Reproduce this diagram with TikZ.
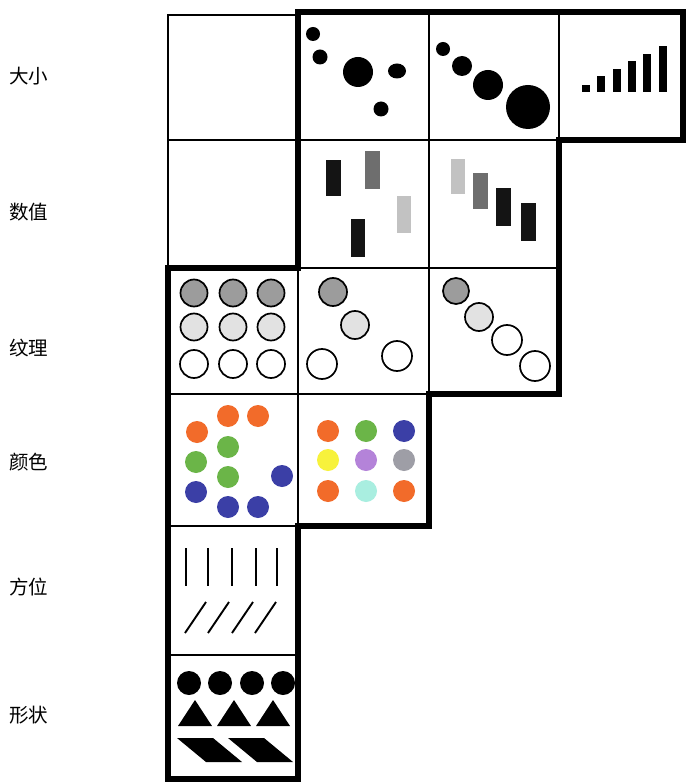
\documentclass[tikz,border=0pt]{standalone}
\usepackage{fontspec}
\usepackage{xcolor}
\usepackage{tikz}
\newfontfamily\cjk{Noto Sans CJK SC}
\definecolor{darkbar}{HTML}{141414}
\definecolor{midbar}{HTML}{6E6E6E}
\definecolor{lightbar}{HTML}{C2C2C2}
\definecolor{darkfill}{HTML}{9C9C9C}
\definecolor{lightfill}{HTML}{E2E2E2}
\definecolor{dotorange}{HTML}{F26B2A}
\definecolor{dotgreen}{HTML}{6BB548}
\definecolor{dotblue}{HTML}{3B3FA6}
\definecolor{dotyellow}{HTML}{F7F23C}
\definecolor{dotlilac}{HTML}{B483D9}
\definecolor{dotgray}{HTML}{9E9EA6}
\definecolor{dotmint}{HTML}{A9EEE0}
\tikzset{
  cell/.style={draw=black, line width=2.5pt},
  frame/.style={draw=black, line width=6pt, line join=miter},
  blob/.style={fill=black},
  ring/.style={draw=black, line width=1.7pt},
  stroke/.style={draw=black, line width=1.9pt},
  rowlabel/.style={anchor=west, inner sep=0pt, font=\cjk\fontsize{19.5}{22}\selectfont}
}

\begin{document}
\begin{tikzpicture}[x=1pt, y=-1pt]
  \useasboundingbox[fill=white] (0,0) rectangle (687,783);

  \node[rowlabel] (size) at (9,76) {大小};
  \node[rowlabel] (value) at (9,212) {数值};
  \node[rowlabel] (texture) at (9,348) {纹理};
  \node[rowlabel] (colour) at (9,462) {颜色};
  \node[rowlabel] (orient) at (9,587) {方位};
  \node[rowlabel] (shape) at (9,715) {形状};

  \draw[cell] (168,15) rectangle (298,140);
  \draw[cell] (298,12) rectangle (429,140);
  \draw[cell] (429,12) rectangle (559,140);
  \draw[cell] (559,12) rectangle (683,140);
  \draw[cell] (168,140) rectangle (298,268);
  \draw[cell] (298,140) rectangle (429,268);
  \draw[cell] (429,140) rectangle (559,268);
  \draw[cell] (168,268) rectangle (298,394);
  \draw[cell] (298,268) rectangle (429,394);
  \draw[cell] (429,268) rectangle (559,394);
  \draw[cell] (168,394) rectangle (298,526);
  \draw[cell] (298,394) rectangle (429,526);
  \draw[cell] (168,526) rectangle (298,655);
  \draw[cell] (168,655) rectangle (298,779);
  \draw[frame] (298,12) -- (683,12) -- (683,140) -- (559,140) -- (559,394) -- (429,394)
    -- (429,526) -- (298,526) -- (298,779) -- (168,779) -- (168,268) -- (298,268) -- cycle;

  % size
  \fill[blob] (313,34) circle (7pt) (320,57) circle (7.5pt) (358,72) circle (15pt)
    (381,109) circle (7.5pt);
  \fill[blob] (397,71) ellipse (9pt and 7.5pt);
  \fill[blob] (443,49) circle (7pt) (462,66) circle (10pt) (488,85) circle (15pt)
    (528,107) circle (22pt);
  \foreach \i/\h in {0/7,1/16,2/23,3/31,4/38,5/46}
    \fill[blob] ({582+15.3*\i},92) rectangle ++(8,-\h);

  % value
  \fill[darkbar] (326,160) rectangle (341,196);
  \fill[midbar] (365,151) rectangle (380,189);
  \fill[lightbar] (397,196) rectangle (411,233);
  \fill[darkbar] (351,219) rectangle (365,257);
  \fill[lightbar] (451,159) rectangle (465,194);
  \fill[midbar] (473,173) rectangle (488,209);
  \fill[darkbar] (496,188) rectangle (511,226);
  \fill[darkbar] (521,203) rectangle (536,241);

  % texture
  \foreach \x in {194,233,271} {
    \filldraw[ring, fill=darkfill] (\x,293) circle (13.5pt);
    \filldraw[ring, fill=lightfill] (\x,327) circle (13.5pt);
    \draw[ring] (\x,364) circle (14pt);
  }
  \filldraw[ring, fill=darkfill] (333,292) circle (14pt);
  \filldraw[ring, fill=lightfill] (355,325) circle (14pt);
  \draw[ring] (322,364) circle (15pt) (397,356) circle (15pt);
  \filldraw[ring, fill=darkfill] (456,291) circle (13pt);
  \filldraw[ring, fill=lightfill] (479,317) circle (14pt);
  \draw[ring] (507,340) circle (15pt) (535,366) circle (15pt);

  % colour
  \fill[dotorange] (197,432) circle (11pt) (228,416) circle (11pt) (258,416) circle (11pt);
  \fill[dotgreen] (228,447) circle (11pt) (196,462) circle (11pt) (228,477) circle (11pt);
  \fill[dotblue] (196,492) circle (11pt) (228,507) circle (11pt) (258,507) circle (11pt)
    (282,476) circle (11pt);
  \fill[dotorange] (328,431) circle (11pt);
  \fill[dotgreen] (366,431) circle (11pt);
  \fill[dotblue] (404,431) circle (11pt);
  \fill[dotyellow] (328,460) circle (11pt);
  \fill[dotlilac] (366,460) circle (11pt);
  \fill[dotgray] (404,460) circle (11pt);
  \fill[dotorange] (328,491) circle (11pt);
  \fill[dotmint] (366,491) circle (11pt);
  \fill[dotorange] (404,491) circle (11pt);

  % orientation
  \foreach \x in {186,208,232,256,277}
    \draw[stroke] (\x,548) -- (\x,586);
  \foreach \x in {185,208,232,255}
    \draw[stroke] (\x,633) -- ++(21,-31);

  % shape
  \foreach \x in {189,220,252,283}
    \fill[blob] (\x,683) circle (12pt);
  \foreach \x in {195,234,273}
    \fill[blob] (\x-17,726) -- (\x+17,726) -- (\x,700) -- cycle;
  \fill[blob] (177,738) -- (213,738) -- (242,762) -- (206,762) -- cycle;
  \fill[blob] (228,738) -- (264,738) -- (293,762) -- (257,762) -- cycle;
\end{tikzpicture}
\end{document}
